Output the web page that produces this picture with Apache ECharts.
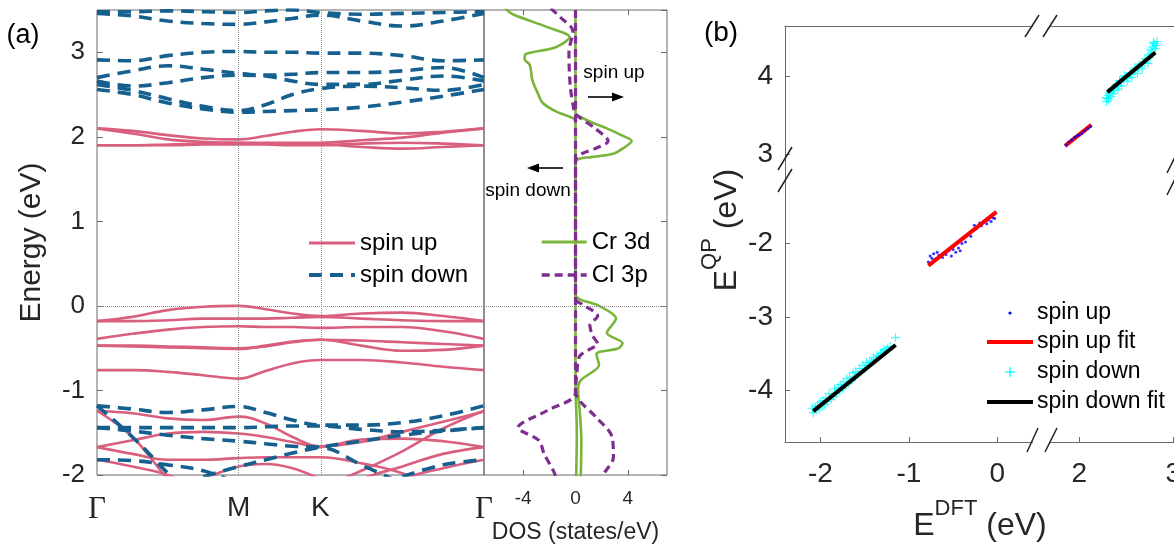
<!DOCTYPE html>
<html><head><meta charset="utf-8">
<script src="https://cdn.jsdelivr.net/npm/echarts@6/dist/echarts.min.js"></script>
<style>html,body{margin:0;padding:0;background:#fff}#c{width:1174px;height:546px}</style>
</head><body><div id="c"></div>
<script>
// ---------- (a) band structure data ----------
const kPoints = [0, 0.25, 0.5, 0.75, 1.0, 1.19, 1.38, 1.577, 1.866, 2.155, 2.443, 2.732];
const kTickValues = [0, 1.0, 1.577, 2.732];
const kTickLabels = ['Γ', 'M', 'K', 'Γ'];
const energyTicks = [-2, -1, 0, 1, 2, 3];

const spinUpBands = [
  [2.10, 2.07, 2.02, 1.98, 1.97, 2.01, 2.06, 2.09, 2.07, 2.04, 2.06, 2.10],
  [2.10, 2.04, 1.97, 1.94, 1.93, 1.93, 1.93, 1.93, 1.96, 1.99, 2.05, 2.10],
  [1.90, 1.90, 1.91, 1.92, 1.93, 1.92, 1.91, 1.91, 1.88, 1.86, 1.88, 1.90],
  [1.90, 1.90, 1.90, 1.91, 1.91, 1.91, 1.90, 1.90, 1.92, 1.93, 1.92, 1.90],
  [-0.18, -0.13, -0.05, -0.01, 0.00, -0.04, -0.09, -0.12, -0.09, -0.08, -0.12, -0.18],
  [-0.18, -0.18, -0.17, -0.15, -0.15, -0.15, -0.14, -0.13, -0.15, -0.17, -0.18, -0.18],
  [-0.39, -0.33, -0.28, -0.25, -0.24, -0.25, -0.25, -0.26, -0.25, -0.25, -0.30, -0.39],
  [-0.47, -0.48, -0.49, -0.50, -0.51, -0.47, -0.42, -0.40, -0.41, -0.43, -0.45, -0.47],
  [-0.47, -0.47, -0.48, -0.49, -0.50, -0.48, -0.43, -0.40, -0.47, -0.53, -0.52, -0.47],
  [-0.76, -0.76, -0.78, -0.82, -0.86, -0.77, -0.68, -0.64, -0.64, -0.67, -0.72, -0.76],
  [-1.24, -1.27, -1.33, -1.35, -1.31, -1.39, -1.55, -1.66, -1.61, -1.49, -1.37, -1.25],
  [-1.24, -1.55, -2.05, -2.50, null, null, null, null, null, null, null, null],
  [-1.67, -1.59, -1.51, -1.49, -1.51, -1.55, -1.61, -1.67, -1.58, -1.57, -1.60, -1.67],
  [-1.67, -1.75, -1.82, -1.82, -1.80, -1.79, -1.79, -1.79, -1.86, -1.98, -2.20, null],
  [-1.82, -1.90, -2.00, -2.20, null, null, null, null, null, null, null, null],
  [null, null, null, -2.05, -1.90, -1.87, -1.92, -2.05, null, null, null, null],
  [null, null, null, null, null, null, null, -2.15, -1.95, -1.72, -1.45, -1.24],
  [null, null, null, null, null, null, null, -2.30, -2.05, -1.90, -1.75, -1.67],
  [null, null, null, null, null, null, null, null, -2.30, -2.05, -1.92, -1.82]
];
const spinDownBands = [
  [2.56, 2.50, 2.40, 2.33, 2.29, 2.30, 2.31, 2.32, 2.35, 2.41, 2.48, 2.56],
  [2.62, 2.55, 2.45, 2.36, 2.31, 2.38, 2.50, 2.57, 2.60, 2.58, 2.55, 2.62],
  [2.66, 2.60, 2.64, 2.70, 2.73, 2.72, 2.66, 2.62, 2.62, 2.67, 2.72, 2.66],
  [2.70, 2.78, 2.84, 2.80, 2.75, 2.73, 2.74, 2.76, 2.76, 2.78, 2.82, 2.70],
  [2.91, 2.90, 2.96, 3.00, 3.01, 3.00, 3.00, 2.99, 2.99, 2.96, 2.90, 2.91],
  [3.46, 3.43, 3.37, 3.34, 3.33, 3.36, 3.40, 3.44, 3.37, 3.31, 3.37, 3.46],
  [3.48, 3.48, 3.49, 3.48, 3.47, 3.49, 3.50, 3.47, 3.45, 3.46, 3.47, 3.48],
  [-1.18, -1.22, -1.26, -1.23, -1.19, -1.26, -1.35, -1.41, -1.41, -1.38, -1.30, -1.18],
  [-1.44, -1.44, -1.44, -1.44, -1.44, -1.43, -1.42, -1.42, -1.46, -1.49, -1.47, -1.44],
  [-1.18, -1.55, -1.98, -2.40, null, null, null, null, null, null, null, null],
  [-1.82, -1.83, -1.88, -1.95, -2.10, null, null, null, null, null, null, null],
  [null, null, null, -2.02, -1.90, -1.82, -1.74, -1.67, -1.60, -1.53, -1.48, -1.44],
  [-1.44, -1.48, -1.53, -1.57, -1.60, -1.63, -1.66, -1.67, -1.88, -2.10, null, null],
  [null, null, null, null, null, null, null, null, null, -2.02, -1.88, -1.82]
];

// ---------- DOS data: [DOS (states/eV), Energy (eV)] ----------
const dosTicks = [-4, 0, 4];
const crUp = [[0,3.5],[0,2.27],[0.3,2.24],[1.4,2.16],[2.4,2.1],[3.5,2.02],[4.3,1.95],[3.6,1.86],[2.9,1.8],[1.2,1.76],[0.3,1.74],[0,1.7],
  [0,0.14],[0.3,0.08],[1.8,0.0],[3.1,-0.15],[2.4,-0.32],[3.6,-0.44],[3.3,-0.5],[1.6,-0.57],[1.8,-0.7],[0.4,-0.88],[0.2,-1.0],[0.35,-1.3],[0.45,-1.6],[0.4,-2.05]];
const crDown = [[-5.4,3.52],[-4.8,3.45],[-2.2,3.3],[-0.45,3.18],[-1.5,3.06],[-3.8,2.98],[-3.9,2.92],[-3.5,2.85],[-3.3,2.67],[-2.9,2.52],[-2.5,2.4],[-1.5,2.3],[-0.2,2.22],[0,2.18],
  [0,-1.0],[0.05,-1.2],[0.1,-1.5],[0.05,-2.05]];
const clUp = [[0,3.5],[0,2.28],[0.4,2.22],[1.5,2.1],[2.5,1.95],[1.5,1.86],[0.5,1.8],[0,1.72],
  [0,0.08],[0.5,0.02],[1.7,-0.12],[1.1,-0.23],[1.3,-0.35],[1.7,-0.45],[1.0,-0.52],[0.3,-0.6],[0.1,-0.8],[0,-1.02],[0.3,-1.12],[1.6,-1.32],[2.8,-1.55],[2.9,-1.79],[2.2,-1.98],[2.1,-2.05]];
const clDown = [[-1.9,3.52],[-1.2,3.42],[-0.2,3.25],[-0.5,3.0],[-0.4,2.6],[-0.1,2.3],[0,2.25],
  [0,-1.02],[-2.2,-1.24],[-4.4,-1.44],[-2.8,-1.59],[-2.4,-1.75],[-1.6,-1.98],[-1.5,-2.05]];

// ---------- (b) quasiparticle vs DFT ----------
const xTicksLeft = [-2, -1, 0];
const xTicksRight = [2, 3];
const yTicksLow = [-4, -3, -2];
const yTicksHigh = [3, 4];
const spinUpLow = [[-0.78,-2.25],[-0.76,-2.17],[-0.74,-2.2],[-0.72,-2.14],[-0.7,-2.21],[-0.68,-2.12],[-0.66,-2.16],[-0.62,-2.19],[-0.58,-2.15],[-0.55,-2.1],[-0.52,-2.17],[-0.5,-2.08],[-0.47,-2.12],[-0.44,-2.06],[-0.42,-2.1],[-0.4,-2.0],[-0.36,-1.98],[-0.3,-1.9],[-0.26,-1.75],[-0.24,-1.8],[-0.2,-1.72],[-0.18,-1.76],[-0.15,-1.7],[-0.12,-1.73],[-0.1,-1.68],[-0.07,-1.7],[-0.05,-1.65],[-0.03,-1.66]];
const spinUpFitLow = [[-0.78,-2.3],[-0.01,-1.57]];
const spinUpHigh = [[1.86,3.12],[1.89,3.16],[1.92,3.19],[1.95,3.22],[1.98,3.24],[2.0,3.25],[2.03,3.27],[2.06,3.3],[2.09,3.33],[2.12,3.36]];
const spinUpFitHigh = [[1.85,3.11],[2.13,3.38]];
const spinDownLow = [[-2.09,-4.24],[-2.08,-4.3],[-2.06,-4.22],[-2.05,-4.27],[-2.03,-4.2],[-2.01,-4.25],[-2.0,-4.16],[-1.98,-4.22],[-1.97,-4.14],[-1.95,-4.19],[-1.94,-4.1],[-1.92,-4.15],
  [-1.9,-4.04],[-1.88,-4.12],[-1.87,-4.06],[-1.85,-4.08],[-1.84,-3.98],[-1.82,-4.04],[-1.8,-3.96],[-1.78,-4.0],[-1.77,-3.92],[-1.75,-3.97],[-1.74,-3.88],[-1.72,-3.93],
  [-1.7,-3.84],[-1.68,-3.9],[-1.67,-3.82],[-1.65,-3.86],[-1.63,-3.76],[-1.61,-3.82],[-1.6,-3.74],[-1.58,-3.78],[-1.56,-3.7],[-1.54,-3.74],[-1.52,-3.66],[-1.5,-3.7],
  [-1.48,-3.62],[-1.46,-3.66],[-1.44,-3.6],[-1.42,-3.62],[-1.4,-3.55],[-1.38,-3.58],[-1.36,-3.52],[-1.34,-3.54],[-1.32,-3.5],[-1.3,-3.48],[-1.28,-3.44],[-1.26,-3.46],[-1.24,-3.42],[-1.21,-3.4],[-1.15,-3.28]];
const spinDownFitLow = [[-2.08,-4.28],[-1.15,-3.38]];
const spinDownHigh = [[2.29,3.68],[2.29,3.73],[2.3,3.72],[2.31,3.76],[2.31,3.7],[2.32,3.79],[2.33,3.8],[2.34,3.74],[2.35,3.84],[2.36,3.78],[2.37,3.86],[2.38,3.82],[2.4,3.9],[2.41,3.84],[2.42,3.88],[2.43,3.95],
  [2.44,3.93],[2.45,3.88],[2.47,3.96],[2.48,4.01],[2.5,4.0],[2.51,3.94],[2.52,3.98],[2.54,4.05],[2.55,4.03],[2.56,3.99],[2.58,4.06],[2.59,4.11],[2.6,4.08],[2.62,4.04],[2.63,4.12],[2.64,4.16],
  [2.66,4.14],[2.67,4.1],[2.69,4.18],[2.7,4.23],[2.72,4.22],[2.73,4.17],[2.74,4.28],[2.75,4.24],[2.76,4.34],[2.77,4.3],[2.78,4.38],[2.79,4.44],[2.8,4.42],[2.81,4.36],[2.82,4.4],[2.83,4.45]];
const spinDownFitHigh = [[2.3,3.8],[2.81,4.31]];

// ---------- styling ----------
const FONT = '"Liberation Sans", Arial, Helvetica, sans-serif';
const SERIF = '"Liberation Serif", "DejaVu Serif", serif';
const AX = '#6a6a6a';
const TXT = '#262626';
const PINK = '#d95f7f', BLUE = '#15608f', GREEN = '#7ab43a', PURPLE = '#7d2e8e';

const chart = echarts.init(document.getElementById('c'));

const series = [];
series.push({type:'line', xAxisIndex:0, yAxisIndex:0, data:[], silent:true, z:1,
  markLine:{silent:true, symbol:['none','none'], label:{show:false}, animation:false,
    lineStyle:{type:'dotted', color:'#8a8a8a', width:1},
    data:[{xAxis:kTickValues[1]},{xAxis:kTickValues[2]},{yAxis:0}]}});
series.push({type:'line', xAxisIndex:1, yAxisIndex:1, data:[], silent:true, z:1,
  markLine:{silent:true, symbol:['none','none'], label:{show:false}, animation:false,
    lineStyle:{type:'dotted', color:'#8a8a8a', width:1}, data:[{yAxis:0}]}});

spinUpBands.forEach(b => series.push({type:'line', name:'spin up', xAxisIndex:0, yAxisIndex:0,
  data:kPoints.map((k,i)=>[k,b[i]]), smooth:0.4, symbol:'none', z:2,
  lineStyle:{color:PINK, width:2.6}, itemStyle:{color:PINK}}));
spinDownBands.forEach(b => series.push({type:'line', name:'spin down', xAxisIndex:0, yAxisIndex:0,
  data:kPoints.map((k,i)=>[k,b[i]]), smooth:0.4, symbol:'none', z:3,
  lineStyle:{color:BLUE, width:3.6, type:[13,8]}, itemStyle:{color:BLUE}}));

[crUp, crDown].forEach(d => series.push({type:'line', name:'Cr 3d', xAxisIndex:1, yAxisIndex:1,
  data:d, smooth:0.3, symbol:'none', z:2, lineStyle:{color:GREEN, width:2.6}, itemStyle:{color:GREEN}}));
[clUp, clDown].forEach(d => series.push({type:'line', name:'Cl 3p', xAxisIndex:1, yAxisIndex:1,
  data:d, smooth:0.3, symbol:'none', z:3, lineStyle:{color:PURPLE, width:3.2, type:[8,5]}, itemStyle:{color:PURPLE}}));

const PLUS = 'path://M4.4,0H5.6V10H4.4Z M0,4.4H10V5.6H0Z';
series.push({type:'scatter', name:'b up', xAxisIndex:2, yAxisIndex:2, data:spinUpLow, symbolSize:3, itemStyle:{color:'#0000ff'}, z:2});
series.push({type:'line', name:'b up fit', xAxisIndex:2, yAxisIndex:2, data:spinUpFitLow, symbol:'none', lineStyle:{color:'#ff0000', width:4}, z:3});
series.push({type:'scatter', name:'b down', xAxisIndex:2, yAxisIndex:2, data:spinDownLow, symbol:PLUS, symbolSize:9, itemStyle:{color:'#00ffff'}, z:4});
series.push({type:'line', name:'b down fit', xAxisIndex:2, yAxisIndex:2, data:spinDownFitLow, symbol:'none', lineStyle:{color:'#000000', width:4}, z:5});
series.push({type:'line', name:'b up fit', xAxisIndex:5, yAxisIndex:5, data:spinUpFitHigh, symbol:'none', lineStyle:{color:'#ff0000', width:4}, z:3});
series.push({type:'scatter', name:'b up', xAxisIndex:5, yAxisIndex:5, data:spinUpHigh, symbolSize:3, itemStyle:{color:'#0000ff'}, z:4});
series.push({type:'scatter', name:'b down', xAxisIndex:5, yAxisIndex:5, data:spinDownHigh, symbol:PLUS, symbolSize:9, itemStyle:{color:'#00ffff'}, z:4});
series.push({type:'line', name:'b down fit', xAxisIndex:5, yAxisIndex:5, data:spinDownFitHigh, symbol:'none', lineStyle:{color:'#000000', width:4}, z:5});

const lbl = (size, extra) => Object.assign({color:TXT, fontSize:size, fontFamily:FONT}, extra||{});
const tickIn = (vals, len) => Object.assign({show:true, inside:true, length:len||6, lineStyle:{color:AX, width:1}}, vals?{customValues:vals}:{});
const noLine = {show:false, onZero:false};
const bLine = {show:true, onZero:false, lineStyle:{color:AX, width:1}};

const gridBase = {outerBoundsMode:'none', containLabel:false};
const legendBase = {orient:'vertical', itemHeight:14, padding:0, selectedMode:false,
  itemStyle:{opacity:0}, textStyle:{fontSize:24, color:'#000', fontFamily:FONT, lineHeight:24}};
const option = {
  animation:false,
  backgroundColor:'#ffffff',
  textStyle:{fontFamily:FONT},
  grid:[
    Object.assign({left:97, top:10, width:387, height:465, show:true, borderColor:AX, borderWidth:1}, gridBase),
    Object.assign({left:484, top:10, width:183, height:465, show:true, borderColor:AX, borderWidth:1}, gridBase),
    Object.assign({left:785, top:170, width:256.6, height:272}, gridBase),
    Object.assign({left:785, top:26, width:256.6, height:144}, gridBase),
    Object.assign({left:1041.6, top:170, width:134.4, height:272}, gridBase),
    Object.assign({left:1041.6, top:26, width:134.4, height:144}, gridBase)
  ],
  xAxis:[
    {type:'value', gridIndex:0, min:0, max:kTickValues[3], axisLine:noLine, axisTick:{show:false}, splitLine:{show:false},
      axisLabel:{customValues:kTickValues, margin:19, color:TXT,
        formatter:v=>{const i=kTickValues.findIndex(t=>Math.abs(t-v)<1e-6); const s=kTickLabels[i]||''; return s==='Γ'?'{g|Γ}':'{s|'+s+'}';},
        rich:{g:{fontFamily:SERIF, fontSize:31, color:TXT}, s:{fontFamily:FONT, fontSize:28, color:TXT}}}},
    {type:'value', gridIndex:1, min:-7, max:7, axisLine:noLine, splitLine:{show:false}, axisTick:tickIn(dosTicks,5),
      axisLabel:lbl(19,{customValues:dosTicks, margin:14}),
      name:'DOS (states/eV)', nameLocation:'middle', nameGap:46, nameTextStyle:lbl(23)},
    {type:'value', gridIndex:2, min:-2.4, max:0.5, axisLine:bLine, splitLine:{show:false}, axisTick:tickIn(xTicksLeft,5),
      axisLabel:lbl(28,{customValues:xTicksLeft, margin:18})},
    {type:'value', gridIndex:3, min:-2.4, max:0.5, position:'top', axisLine:bLine, splitLine:{show:false}, axisTick:{show:false}, axisLabel:{show:false}},
    {type:'value', gridIndex:4, min:1.6, max:3.03, axisLine:bLine, splitLine:{show:false}, axisTick:tickIn(xTicksRight,5),
      axisLabel:lbl(28,{customValues:xTicksRight, margin:18})},
    {type:'value', gridIndex:5, min:1.6, max:3.03, position:'top', axisLine:bLine, splitLine:{show:false}, axisTick:{show:false}, axisLabel:{show:false}},
    {type:'value', gridIndex:1, min:-7, max:7, position:'top', axisLine:noLine, splitLine:{show:false}, axisTick:tickIn(dosTicks,5), axisLabel:{show:false}}
  ],
  yAxis:[
    {type:'value', gridIndex:0, min:-2, max:3.5, interval:1, axisLine:noLine, splitLine:{show:false}, axisTick:tickIn(null,6),
      axisLabel:lbl(26,{margin:12, customValues:energyTicks}),
      name:'Energy (eV)', nameLocation:'middle', nameRotate:90, nameGap:50, nameTextStyle:lbl(30)},
    {type:'value', gridIndex:1, min:-2, max:3.5, interval:1, position:'right', axisLine:noLine, splitLine:{show:false}, axisTick:tickIn(null,6), axisLabel:{show:false}},
    {type:'value', gridIndex:2, min:-4.7, max:-1.0, axisLine:bLine, splitLine:{show:false}, axisTick:tickIn(yTicksLow,5),
      axisLabel:lbl(28,{customValues:yTicksLow, margin:12})},
    {type:'value', gridIndex:3, min:2.8, max:4.65, axisLine:bLine, splitLine:{show:false}, axisTick:tickIn(yTicksHigh,5),
      axisLabel:lbl(28,{customValues:yTicksHigh, margin:12})},
    {type:'value', gridIndex:4, min:-4.7, max:-1.0, show:false},
    {type:'value', gridIndex:5, min:2.8, max:4.65, show:false}
  ],
  legend:[
    Object.assign({data:[{name:'spin up', lineStyle:{width:3}}, {name:'spin down', lineStyle:{width:4}}],
      left:307, top:231, itemWidth:46, itemGap:8}, legendBase),
    Object.assign({data:[{name:'Cr 3d', lineStyle:{width:3}}, {name:'Cl 3p', lineStyle:{width:3.4}}],
      left:540, top:230, itemWidth:45, itemGap:9}, legendBase)
  ],
  series:series
};

const gtext = (x,y,text,size,extra) => ({type:'text', x:x, y:y, z:100, silent:true,
  style:Object.assign({text:text, fill:'#000', font:size+'px '+FONT, align:'center', verticalAlign:'middle'}, extra||{})});
const gline = (x1,y1,x2,y2,color,w) => ({type:'line', z:100, silent:true, shape:{x1:x1,y1:y1,x2:x2,y2:y2}, style:{stroke:color, lineWidth:w}});
const gpoly = (pts,color) => ({type:'polygon', z:100, silent:true, shape:{points:pts}, style:{fill:color}});

const supRich = {
  a:{fontSize:32, lineHeight:44, fontFamily:FONT, fill:TXT, verticalAlign:'bottom'},
  s:{fontSize:22, lineHeight:22, fontFamily:FONT, fill:TXT, verticalAlign:'top'}
};

option.graphic = [
  gtext(23, 36, '(a)', 27),
  gtext(721, 33, '(b)', 28),
  gtext(614, 73, 'spin up', 19),
  gline(588, 97, 614, 97, '#000', 1.6), gpoly([[624,97],[612,92.5],[612,101.5]], '#000'),
  gtext(528, 191, 'spin down', 19),
  gline(538, 168, 563, 168, '#000', 1.6), gpoly([[527,168],[539,163.5],[539,172.5]], '#000'),
  {type:'text', x:980, y:520, z:100, silent:true, style:{text:'{a|E}{s|DFT}{a| (eV)}', rich:supRich, align:'center', verticalAlign:'middle'}},
  {type:'text', x:721, y:230, rotation:Math.PI/2, z:100, silent:true, style:{text:'{a|E}{s|QP}{a| (eV)}', rich:supRich, align:'center', verticalAlign:'middle'}},
  {type:'circle', z:100, silent:true, shape:{cx:1010, cy:313, r:1.6}, style:{fill:'#0000ff'}},
  gtext(1037, 313, 'spin up', 23, {align:'left'}),
  gline(987, 342, 1033, 342, '#ff0000', 4),
  gtext(1037, 342, 'spin up fit', 23, {align:'left'}),
  gline(1005, 372, 1015, 372, '#00ffff', 1.3), gline(1010, 367, 1010, 377, '#00ffff', 1.3),
  gtext(1037, 372, 'spin down', 23, {align:'left'}),
  gline(987, 402, 1033, 402, '#000000', 4),
  gtext(1037, 402, 'spin down fit', 23, {align:'left'}),
  {type:'rect', z:99, silent:true, shape:{x:1033, y:23, width:16, height:5}, style:{fill:'#fff'}},
  gline(1025, 37, 1039, 15, '#222', 1.5), gline(1043, 37, 1057, 15, '#222', 1.5),
  {type:'rect', z:99, silent:true, shape:{x:1033, y:440, width:17, height:5}, style:{fill:'#fff'}},
  gline(1027, 452, 1038, 428, '#222', 1.5), gline(1045, 452, 1057, 428, '#222', 1.5),
  gline(778, 170, 792, 147, '#222', 1.5), gline(778, 192, 792, 169, '#222', 1.5),
  gline(1167, 173, 1178, 151, '#222', 1.5), gline(1167, 195, 1178, 173, '#222', 1.5)
];

chart.setOption(option);
</script>
</body></html>
